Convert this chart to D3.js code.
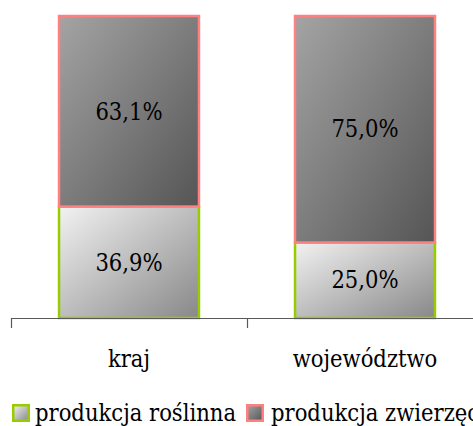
<!DOCTYPE html>
<html>
<head>
<meta charset="utf-8">
<script src="https://cdn.jsdelivr.net/npm/d3@7"></script>
<style>
  html, body { margin: 0; padding: 0; background: #fff; overflow: hidden; }
  svg { display: block; }
</style>
</head>
<body>
<svg id="chart" width="473" height="426"></svg>
<script>
const categories = ["kraj", "województwo"];
const seriesNames = ["produkcja roślinna", "produkcja zwierzęca"];
const roslinna = [36.9, 25.0];
const zwierzeca = [63.1, 75.0];
const valueLabels = [["36,9%", "25,0%"], ["63,1%", "75,0%"]];

(function () {
const FONT = "'DejaVu Serif Condensed', 'DejaVu Serif'";
const FS = 23.5;
const svg = d3.select("#chart");
const mLeft = 11, mRight = 483, mTop = 16, mBottom = 318;

const x = d3.scaleBand().domain(categories).range([mLeft, mRight]).padding(0);
const y = d3.scaleLinear().domain([0, 100]).range([mBottom, mTop]);
const barW = x.bandwidth() * 0.593;

const defs = svg.append("defs");
function grad(id, c1, c2) {
  const g = defs.append("linearGradient").attr("id", id)
    .attr("x1", 0).attr("y1", 0).attr("x2", 1).attr("y2", 1);
  g.append("stop").attr("offset", "0%").attr("stop-color", c1);
  g.append("stop").attr("offset", "100%").attr("stop-color", c2);
}
grad("gLow", "#f2f2f2", "#888888");
grad("gHigh", "#a4a4a4", "#555555");

const series = [
  { name: seriesNames[0], values: roslinna, fill: "url(#gLow)", stroke: "#99cc00" },
  { name: seriesNames[1], values: zwierzeca, fill: "url(#gHigh)", stroke: "#ff8080" }
];

const stackData = categories.map((c, i) => ({ cat: c, s0: roslinna[i], s1: zwierzeca[i] }));
const stacked = d3.stack().keys(["s0", "s1"])(stackData);

stacked.forEach((layer, si) => {
  const g = svg.append("g");
  layer.forEach((d, i) => {
    const cx = x(categories[i]) + x.bandwidth() / 2;
    const y0 = y(d[0]), y1 = y(d[1]);
    g.append("rect")
      .attr("x", cx - barW / 2)
      .attr("y", y1)
      .attr("width", barW)
      .attr("height", y0 - y1)
      .attr("fill", series[si].fill)
      .attr("stroke", series[si].stroke)
      .attr("stroke-width", 2.5);
  });
});
stacked.forEach((layer, si) => {
  layer.forEach((d, i) => {
    const cx = x(categories[i]) + x.bandwidth() / 2;
    const cy = (y(d[0]) + y(d[1])) / 2;
    svg.append("text")
      .attr("x", cx).attr("y", cy).attr("dy", "0.35em")
      .attr("text-anchor", "middle")
      .style("font-family", FONT)
      .attr("font-size", FS)
      .attr("fill", "#000")
      .text(valueLabels[si][i]);
  });
});

const axisColor = "#595959";
svg.append("line")
  .attr("x1", mLeft).attr("x2", mRight)
  .attr("y1", mBottom + 0.5).attr("y2", mBottom + 0.5)
  .attr("stroke", axisColor).attr("stroke-width", 1.2);
const tickPos = categories.map(c => x(c)).concat([mRight]);
svg.selectAll(".tick").data(tickPos).enter().append("line")
  .attr("x1", d => Math.round(d) + 0.5).attr("x2", d => Math.round(d) + 0.5)
  .attr("y1", mBottom).attr("y2", mBottom + 10)
  .attr("stroke", axisColor).attr("stroke-width", 1.2);
svg.selectAll(".cat").data(categories).enter().append("text")
  .attr("x", d => x(d) + x.bandwidth() / 2)
  .attr("y", 367)
  .attr("text-anchor", "middle")
  .style("font-family", FONT)
  .attr("font-size", FS)
  .attr("fill", "#000")
  .text(d => d);

const legY = 404;
const leg = [
  { x: 12, tx: 35 },
  { x: 246, tx: 271 }
];
series.forEach((s, i) => {
  svg.append("rect")
    .attr("x", leg[i].x + 1.25).attr("y", legY + 1.25)
    .attr("width", 15.5).attr("height", 15.5)
    .attr("fill", s.fill).attr("stroke", s.stroke).attr("stroke-width", 2.5);
  svg.append("text")
    .attr("x", leg[i].tx).attr("y", 421)
    .style("font-family", FONT)
    .attr("font-size", FS)
    .attr("fill", "#000")
    .text(s.name);
});
})();
</script>
</body>
</html>
